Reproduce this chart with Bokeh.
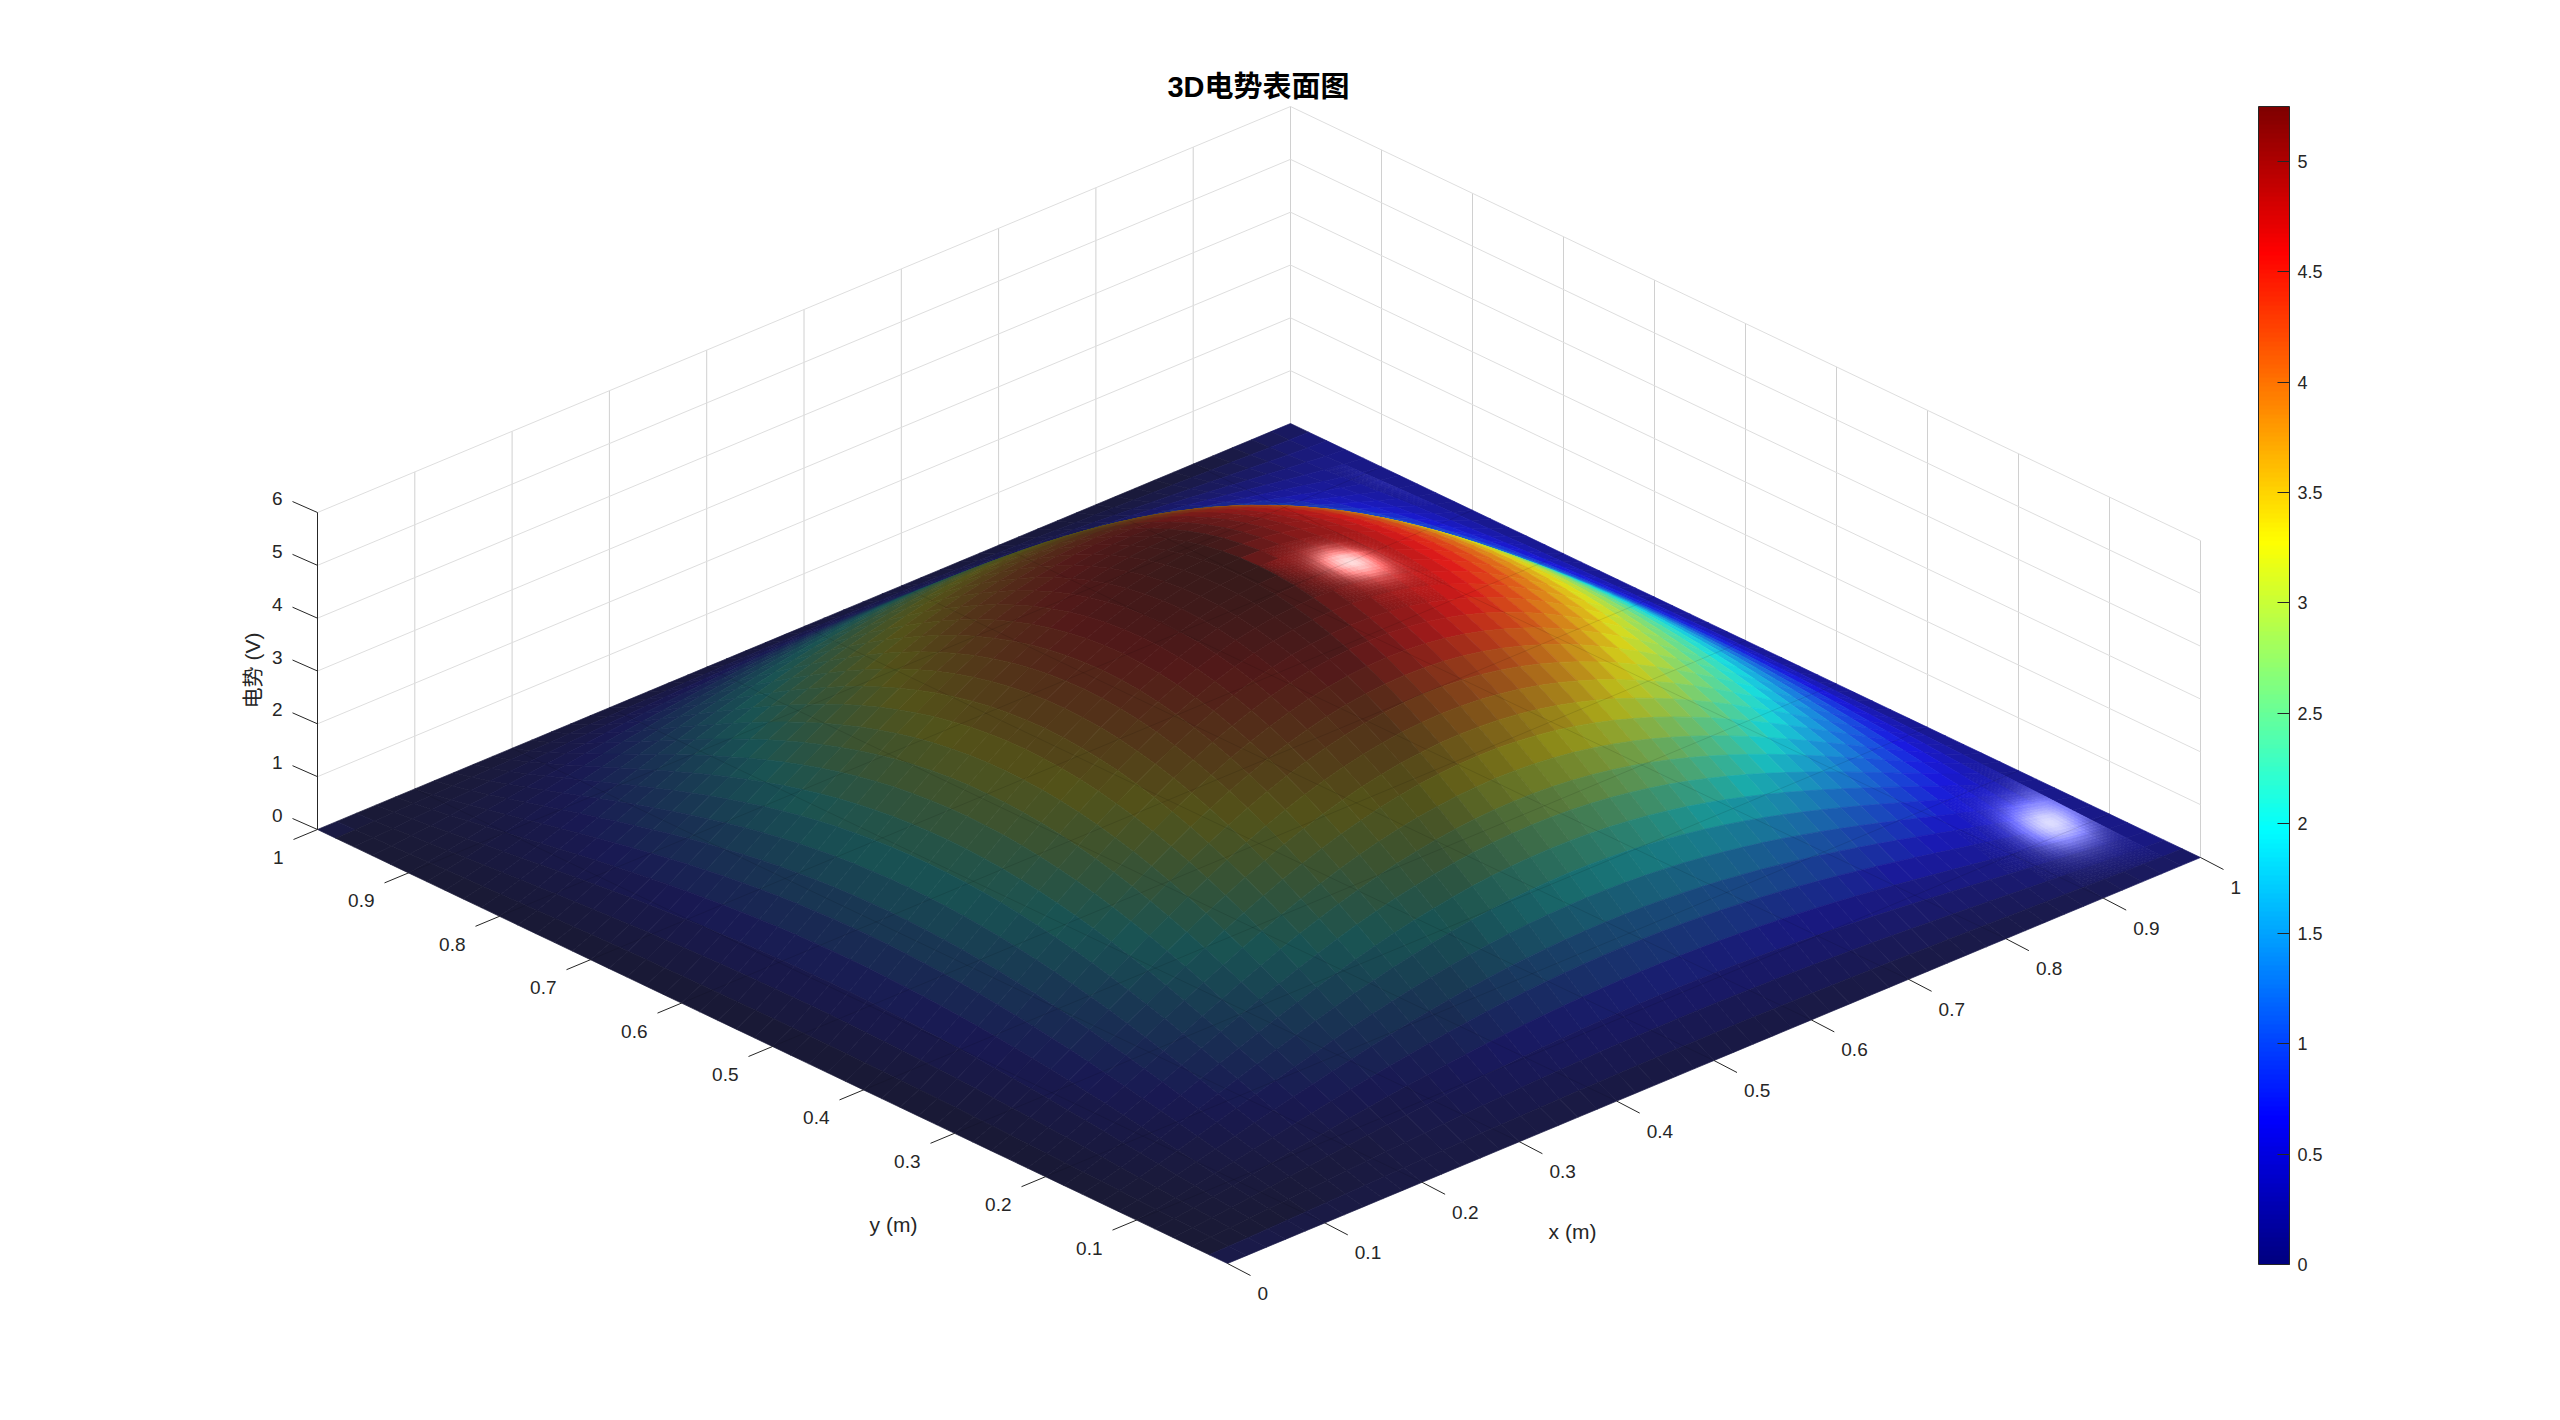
import numpy as np
from bokeh.plotting import figure
from bokeh.models import ColorBar, LinearColorMapper, FixedTicker, Range1d
from bokeh.core.properties import value
from bokeh.embed import file_html
from bokeh.resources import INLINE

TITLE = "3D电势表面图"
X_LABEL, Y_LABEL, Z_LABEL = "x (m)", "y (m)", "电势 (V)"
XY_TICKS = [0, 0.1, 0.2, 0.3, 0.4, 0.5, 0.6, 0.7, 0.8, 0.9, 1]
XY_TICK_LABELS = ["0", "0.1", "0.2", "0.3", "0.4", "0.5", "0.6", "0.7", "0.8", "0.9", "1"]
Z_TICKS = [0, 1, 2, 3, 4, 5, 6]
CBAR_TICKS = [0, 0.5, 1, 1.5, 2, 2.5, 3, 3.5, 4, 4.5, 5]
CBAR_LOW, CBAR_HIGH = 0, 5.25
GRID_CELLS = 50

# Potential (V): one corner quadrant of the square, row i from
# column i to the middle column; the surface is symmetric across x=y and both midlines.
surface_rows = [
 [0.0]*26,
 [.008,.018,.029,.040,.052,.064,.076,.088,.099,.111,.122,.132,.142,.152,.161,.169,.177,.183,.189,.194,.198,.202,.204,.206,.206],
 [.041,.065,.091,.117,.143,.170,.197,.223,.248,.273,.297,.319,.341,.361,.379,.396,.411,.424,.436,.445,.452,.458,.461,.462],
 [.104,.145,.187,.230,.272,.315,.357,.397,.437,.475,.511,.545,.577,.607,.634,.658,.680,.698,.713,.725,.733,.738,.740],
 [.202,.261,.320,.380,.439,.497,.554,.609,.662,.712,.760,.805,.846,.883,.917,.947,.972,.993,1.010,1.021,1.029,1.031],
 [.336,.413,.489,.565,.640,.714,.785,.853,.918,.980,1.037,1.090,1.139,1.182,1.220,1.253,1.280,1.301,1.317,1.326,1.329],
 [.507,.601,.694,.786,.876,.963,1.047,1.127,1.202,1.273,1.338,1.398,1.451,1.498,1.538,1.571,1.597,1.616,1.627,1.631],
 [.712,.823,.932,1.038,1.141,1.241,1.336,1.425,1.509,1.586,1.656,1.720,1.775,1.823,1.862,1.893,1.915,1.929,1.933],
 [.951,1.077,1.200,1.319,1.434,1.543,1.647,1.743,1.833,1.914,1.987,2.051,2.107,2.152,2.188,2.213,2.229,2.234],
 [1.219,1.359,1.494,1.624,1.748,1.865,1.974,2.076,2.168,2.251,2.323,2.386,2.437,2.478,2.506,2.524,2.530],
 [1.514,1.664,1.809,1.948,2.078,2.200,2.313,2.416,2.508,2.589,2.658,2.716,2.761,2.793,2.812,2.819],
 [1.830,1.990,2.142,2.285,2.419,2.543,2.656,2.758,2.847,2.923,2.987,3.036,3.071,3.093,3.100],
 [2.162,2.328,2.483,2.629,2.764,2.887,2.997,3.094,3.177,3.246,3.299,3.338,3.361,3.369],
 [2.506,2.673,2.831,2.976,3.108,3.227,3.331,3.420,3.494,3.552,3.593,3.619,3.627],
 [2.853,3.020,3.175,3.316,3.443,3.554,3.649,3.728,3.790,3.834,3.861,3.870],
 [3.197,3.361,3.511,3.645,3.762,3.863,3.947,4.012,4.059,4.088,4.097],
 [3.533,3.691,3.831,3.955,4.061,4.149,4.218,4.267,4.297,4.307],
 [3.855,4.002,4.131,4.243,4.334,4.406,4.457,4.489,4.499],
 [4.154,4.288,4.404,4.499,4.573,4.627,4.659,4.670],
 [4.427,4.546,4.645,4.721,4.776,4.810,4.821],
 [4.669,4.770,4.849,4.905,4.940,4.951],
 [4.873,4.953,5.011,5.046,5.058],
 [5.035,5.093,5.129,5.141],
 [5.153,5.189,5.201],
 [5.226,5.238],
 [5.25],
]

# ---- surface matrix from the quadrant table
N = GRID_CELLS
Z = np.zeros((N + 1, N + 1))
for i, row in enumerate(surface_rows):
    if i == 0:
        continue
    for k, v in enumerate(row):
        j = i + k
        for a, b in {(i, j), (j, i), (N - i, j), (j, N - i), (i, N - j), (N - j, i), (N - i, N - j), (N - j, N - i)}:
            Z[a, b] = v
gx, gy = np.gradient(Z, 1 / N, 1 / N)   # first index = x, second = y


# ---- orthographic projection of the 3D box to picture pixels
def proj(x, y, z):
    x, y, z = np.asarray(x, float), np.asarray(y, float), np.asarray(z, float)
    return 1227 + 973 * x - 910 * y, 1263 - 406 * x - 434 * y - 52.83 * z


def jet(v):
    v = np.clip(v, 0, 1)
    return np.stack([np.clip(1.5 - np.abs(4 * v - k), 0, 1) for k in (3, 2, 1)], -1)


PALETTE = ["#%02x%02x%02x" % tuple(int(round(c * 255)) for c in jet(i / 255)) for i in range(256)]

# ---- lighting
light = np.array([.85, -.15, .40]); light /= np.linalg.norm(light)
GLOSS_GX, GLOSS_GY, GLOSS_W = -3.85, 1.85, 1.05      # surface slope that mirrors the light
AMB, DIF, SPEC, ALPHA = .25, .65, .85, .90


def shade(gxv, gyv):
    n = np.array([-gxv, -gyv, 1.0]); n /= np.linalg.norm(n)
    d2 = (gxv - GLOSS_GX) ** 2 + (gyv - GLOSS_GY) ** 2
    return AMB + DIF * max(0, n @ light), SPEC * np.exp(-d2 / (2 * GLOSS_W ** 2))


def rgb(base, lum, sp):
    c = np.clip(base * lum + sp, 0, 1)
    c = ALPHA * c + (1 - ALPHA)
    return "#%02x%02x%02x" % tuple(int(round(v * 255)) for v in c)


# ---- cells, back to front
cells = sorted(((i + j, i, j) for i in range(N) for j in range(N)), reverse=True)
xs, ys, cols = [], [], []
for _, i, j in cells:
    base = jet(Z[i, j] / CBAR_HIGH)
    corner = [(i, j), (i + 1, j), (i + 1, j + 1), (i, j + 1)]
    on_rim = i == N - 1                       # the far rim shows no highlight
    spec_max = 0 if on_rim else max(shade(gx[c], gy[c])[1] for c in corner)
    sub = 5 if spec_max > .02 else 1
    for a in range(sub):
        for b in range(sub):
            u = np.array([a, a + 1, a + 1, a]) / sub
            v = np.array([b, b, b + 1, b + 1]) / sub
            def bil(F):
                return (F[i, j] * (1 - u) * (1 - v) + F[i + 1, j] * u * (1 - v)
                        + F[i + 1, j + 1] * u * v + F[i, j + 1] * (1 - u) * v)
            zz, gxx, gyy = bil(Z), bil(gx), bil(gy)
            px, py = proj((i + u) / N, (j + v) / N, zz)
            lum, sp = shade(gxx.mean(), gyy.mean())
            xs.append(px.tolist()); ys.append(py.tolist()); cols.append(rgb(base, lum, 0 if on_rim else sp))

# ---- figure in picture pixels
p = figure(width=2544, height=1404, output_backend="svg", toolbar_location=None,
           x_range=Range1d(0, 2544), y_range=Range1d(1404, 0),
           min_border=0, outline_line_color=None)
p.axis.visible = False
p.grid.visible = False
p.background_fill_color = "white"

FONT = value("Liberation Sans")
INK = "#262626"


def seg(pts0, pts1, color, width=1, alpha=1.0):
    a = np.array([proj(*q) for q in pts0]); b = np.array([proj(*q) for q in pts1])
    p.segment(a[:, 0], a[:, 1], b[:, 0], b[:, 1], line_color=color, line_width=width, line_alpha=alpha)


inner = XY_TICKS[1:]
# walls and floor grid behind the surface
seg([(t, 1, 0) for t in XY_TICKS], [(t, 1, 6) for t in XY_TICKS], "#d0d0d0")
seg([(1, t, 0) for t in XY_TICKS], [(1, t, 6) for t in XY_TICKS], "#d0d0d0")
seg([(0, 1, z) for z in Z_TICKS[1:]], [(1, 1, z) for z in Z_TICKS[1:]], "#dedede")
seg([(1, 0, z) for z in Z_TICKS[1:]], [(1, 1, z) for z in Z_TICKS[1:]], "#dedede")

p.patches(xs, ys, fill_color=cols, line_color=cols, line_width=0.7)

# floor grid seen through the translucent surface
seg([(t, 0, 0) for t in inner[:-1]], [(t, 1, 0) for t in inner[:-1]], "#000000", 1, .10)
seg([(0, t, 0) for t in inner[:-1]], [(1, t, 0) for t in inner[:-1]], "#000000", 1, .10)

# box edge and ticks
seg([(0, 1, 0)], [(0, 1, 6)], INK)
tx0, ty0 = proj(np.array(XY_TICKS), 0, 0)
p.segment(tx0, ty0, tx0 + 23, ty0 + 12, line_color=INK)
p.text(tx0 + 30, ty0 + 30, text=XY_TICK_LABELS, text_font=FONT, text_font_size="19px", text_color=INK,
       text_align="left", text_baseline="middle")
yx0, yy0 = proj(0, np.array(inner), 0)
p.segment(yx0, yy0, yx0 - 24, yy0 + 10, line_color=INK)
p.text(yx0 - 34, yy0 + 28, text=XY_TICK_LABELS[1:], text_font=FONT, text_font_size="19px", text_color=INK,
       text_align="right", text_baseline="middle")
zx0, zy0 = proj(0, 1, np.array(Z_TICKS))
p.segment(zx0, zy0, zx0 - 25, zy0 - 11, line_color=INK)
p.text(zx0 - 35, zy0 - 14, text=[str(z) for z in Z_TICKS], text_font=FONT, text_font_size="19px", text_color=INK,
       text_align="right", text_baseline="middle")

p.text([1572], [1231], text=[X_LABEL], text_font=FONT, text_font_size="21px", text_color=INK,
       text_align="center", text_baseline="middle")
p.text([893], [1224], text=[Y_LABEL], text_font=FONT, text_font_size="21px", text_color=INK,
       text_align="center", text_baseline="middle")
p.text([252], [670], text=[Z_LABEL], angle=[np.pi / 2], text_font=value("Liberation Sans, Noto Sans CJK SC"),
       text_font_size="21px", text_color=INK, text_align="center", text_baseline="middle")
p.text([1258], [86], text=[TITLE], text_font=value("Liberation Sans, Noto Sans CJK SC"), text_font_size="29px",
       text_font_style="bold", text_color="#000000", text_align="center", text_baseline="middle")

mapper = LinearColorMapper(palette=PALETTE, low=CBAR_LOW, high=CBAR_HIGH)
cb = ColorBar(color_mapper=mapper, location=(2258, 140), width=31, height=1158, padding=0, margin=0,
              ticker=FixedTicker(ticks=CBAR_TICKS),
              major_label_overrides={t: ("%g" % t) for t in CBAR_TICKS},
              major_tick_line_color="#262626", major_tick_in=12, minor_tick_line_color=None,
              bar_line_color="#262626", major_label_text_font="Liberation Sans",
              major_label_text_font_size="18px", major_label_text_color=INK, label_standoff=8)
p.add_layout(cb)

open("out.html", "w").write(file_html(p, INLINE))
